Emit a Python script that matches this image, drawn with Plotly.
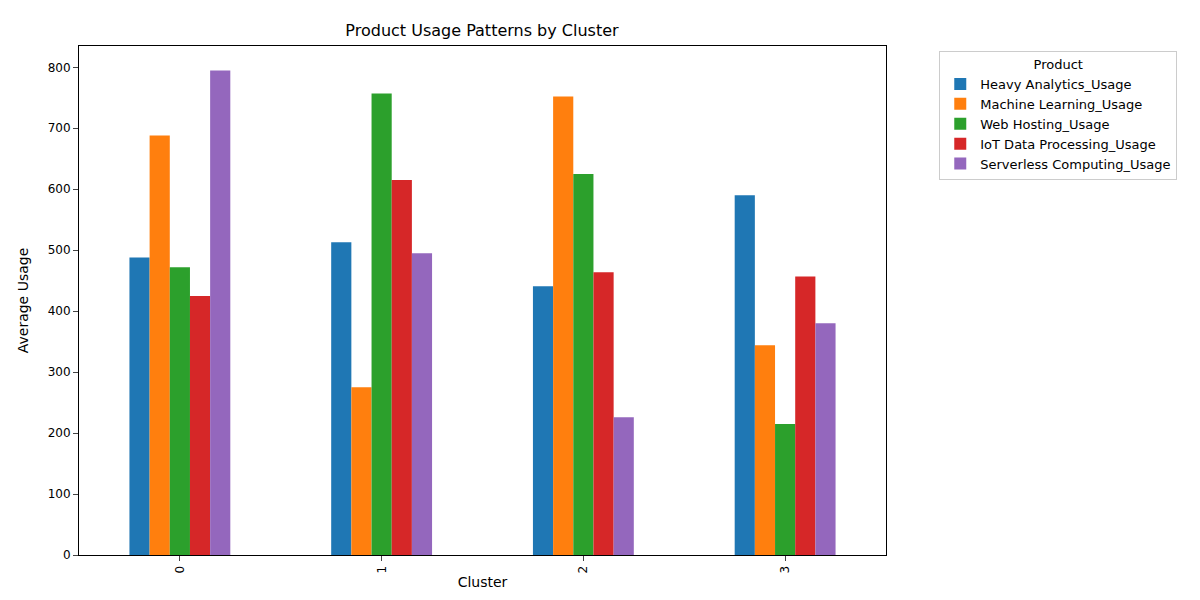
import plotly.graph_objects as go

clusters = ["0", "1", "2", "3"]
products = ["Heavy Analytics_Usage", "Machine Learning_Usage", "Web Hosting_Usage",
            "IoT Data Processing_Usage", "Serverless Computing_Usage"]
heavy = [488, 513, 441, 590]
ml = [688, 275, 752, 344]
web = [472, 757, 625, 215]
iot = [425, 615, 464, 457]
serverless = [795, 495, 226, 380]
colors = ["#1f77b4", "#ff7f0e", "#2ca02c", "#d62728", "#9467bd"]

fig = go.Figure()
for name, vals, c in zip(products, [heavy, ml, web, iot, serverless], colors):
    fig.add_trace(go.Bar(x=clusters, y=vals, name=name, marker_color=c, marker_line_width=0))

fig.update_layout(
    width=1200, height=600, barmode="group", bargap=0.5, bargroupgap=0,
    plot_bgcolor="white", paper_bgcolor="white",
    font=dict(family="DejaVu Sans", size=12, color="black"),
    title=dict(text="Product Usage Patterns by Cluster", x=0.395, xanchor="center",
               yref="container", y=0.962, yanchor="middle", font=dict(size=16)),
    margin=dict(l=71, r=322, t=38, b=53, autoexpand=False),
    legend=dict(title=dict(text="Product", side="top center", font=dict(size=13)),
                x=1.066, y=0.99, xanchor="left", yanchor="top",
                bordercolor="#cccccc", borderwidth=1, font=dict(size=13)),
    xaxis=dict(title=dict(text="Cluster", standoff=4), tickangle=-90, showline=True, linecolor="black",
               mirror=True, ticks="outside", range=[-0.5, 3.5]),
    yaxis=dict(title="Average Usage", range=[0, 835], dtick=100, showline=True, linecolor="black",
               mirror=True, ticks="outside", showgrid=False, zeroline=False),
)
fig.write_html("out.html")
